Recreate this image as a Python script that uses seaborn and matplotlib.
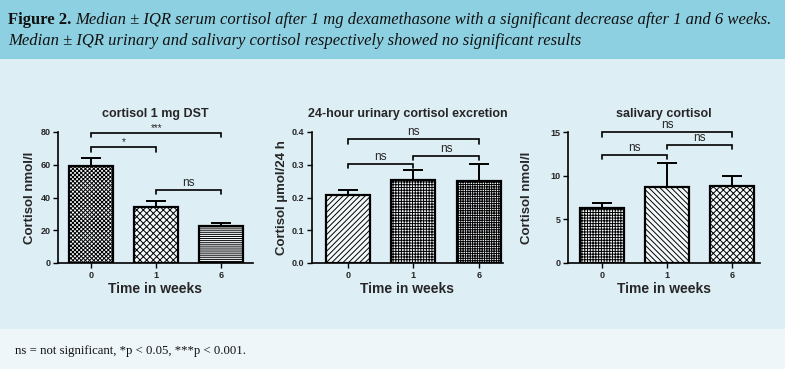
import matplotlib
matplotlib.use("Agg")
import matplotlib.pyplot as plt
from matplotlib.patches import Rectangle
import seaborn as sns
import pandas as pd
import numpy as np

# ---------------- data ----------------
weeks = ["0", "1", "6"]

dst_median = [59.0, 34.4, 22.8]
dst_upper = [64.3, 38.0, 24.4]

ufc_median = [0.207, 0.254, 0.249]
ufc_upper = [0.224, 0.285, 0.301]

sal_median = [6.3, 8.67, 8.82]
sal_upper = [6.9, 11.5, 9.96]

titles = ["cortisol 1 mg DST", "24-hour urinary cortisol excretion", "salivary cortisol"]
ylabels = ["Cortisol nmol/l", "Cortisol \u00b5mol/24 h", "Cortisol nmol/l"]
xlabel = "Time in weeks"

dst_ticks = [0, 20, 40, 60, 80]
ufc_ticks = [0.0, 0.1, 0.2, 0.3, 0.4]
sal_ticks = [0, 5, 10, 15]

# significance comparisons: (i, j, bracket level, tip level, label)
dst_sig = [(0, 2, 79.6, 77.0, "***"), (0, 1, 70.9, 68.0, "*"), (1, 2, 44.8, 42.0, "ns")]
ufc_sig = [(0, 2, 0.379, 0.364, "ns"), (0, 1, 0.302, 0.290, "ns"), (1, 2, 0.328, 0.313, "ns")]
sal_sig = [(0, 2, 15.0, 14.4, "ns"), (0, 1, 12.4, 11.95, "ns"), (1, 2, 13.5, 13.0, "ns")]

hatches = [["xxxxxxxx", "xxxxx", "--------"],
           ["//////", "++++++", "+++++++"],
           ["++++++", "\\\\\\\\\\\\", "xxxxx"]]

caption_bold = "Figure 2."
caption_1 = "Median \u00b1 IQR serum cortisol after 1 mg dexamethasone with a significant decrease after 1 and 6 weeks."
caption_2 = "Median \u00b1 IQR urinary and salivary cortisol respectively showed no significant results"
footnote = "ns = not significant, *p < 0.05, ***p < 0.001."

# ---------------- style ----------------
sns.set_style("white")
plt.rcParams["font.family"] = ["Liberation Sans", "DejaVu Sans"]
plt.rcParams["hatch.linewidth"] = 0.7
plt.rcParams["hatch.color"] = "black"

W, H = 785, 369
fig = plt.figure(figsize=(W / 100, H / 100), dpi=100)
fig.patch.set_facecolor("#deeef5")

header_col = "#8dd0e1"
footer_col = "#eef6f9"
fig.patches.append(Rectangle((0, 1 - 59 / H), 1, 59 / H, transform=fig.transFigure,
                             facecolor=header_col, edgecolor="none", zorder=-10))
fig.patches.append(Rectangle((0, 0), 1, 1 - 329 / H, transform=fig.transFigure,
                             facecolor=footer_col, edgecolor="none", zorder=-10))

cap_fs = 12.0
tb = fig.text(8 / W, 1 - 20 / H, caption_bold, fontsize=cap_fs, fontweight="bold",
              family="Liberation Serif", va="center", ha="left", color="#111111")
fig.canvas.draw()
bb = tb.get_window_extent(renderer=fig.canvas.get_renderer())
fig.text((bb.x1 + 4) / W, 1 - 20 / H, caption_1, fontsize=cap_fs, style="italic",
         family="Liberation Serif", va="center", ha="left", color="#111111")
fig.text(8 / W, 1 - 41 / H, caption_2, fontsize=cap_fs, style="italic",
         family="Liberation Serif", va="center", ha="left", color="#111111")
fig.text(15 / W, 1 - 351 / H, footnote, fontsize=9.2,
         family="Liberation Serif", va="center", ha="left", color="#111111")

# axes geometry in pixels: (left, right, xlim_left, xlim_right)
geoms = [(58, 253, -0.51, 2.49), (312, 503, -0.55, 2.37), (568, 760, -0.52, 2.43)]
y0_px, ytop_px = 263, 132
ylims = [(0, 80), (0, 0.4), (0, 15)]
ylabel_x = [36, 288, 533]

datasets = [(dst_median, dst_upper, dst_ticks, dst_sig, "{:.0f}"),
            (ufc_median, ufc_upper, ufc_ticks, ufc_sig, "{:.1f}"),
            (sal_median, sal_upper, sal_ticks, sal_sig, "{:.0f}")]

for k, ((med, upp, ticks, sig, fmt), (lpx, rpx, xl, xr)) in enumerate(zip(datasets, geoms)):
    ax = fig.add_axes([lpx / W, 1 - y0_px / H, (rpx - lpx) / W, (y0_px - ytop_px) / H])
    ax.set_facecolor("none")
    df = pd.DataFrame({"week": weeks, "value": med})
    sns.barplot(data=df, x="week", y="value", ax=ax, color="white", width=0.67,
                edgecolor="black", linewidth=1.6, errorbar=None, saturation=1)
    for p, h in zip(ax.patches, hatches[k]):
        p.set_hatch(h)
        p.set_facecolor("#f4f9fb")
        p.set_edgecolor("black")
    xs = np.arange(len(weeks))
    err = np.array(upp) - np.array(med)
    ax.errorbar(xs, med, yerr=[np.zeros(len(med)), err], fmt="none", ecolor="black",
                elinewidth=1.4, capsize=7.5, capthick=1.4, zorder=1)
    ymin, ymax = ylims[k]
    ax.set_xlim(xl, xr)
    ax.set_ylim(ymin, ymax)
    ax.set_yticks(ticks)
    ax.set_yticklabels([fmt.format(t) for t in ticks], fontsize=6.5, fontweight="bold")
    ax.set_xticks(xs)
    ax.set_xticklabels(weeks, fontsize=6.5, fontweight="bold")
    ax.tick_params(axis="both", length=3.5, width=1.0, color="black", pad=2, direction="out",
                   left=True, bottom=True)
    for s in ["top", "right"]:
        ax.spines[s].set_visible(False)
    for s in ["left", "bottom"]:
        ax.spines[s].set_linewidth(1.2)
        ax.spines[s].set_color("black")
    ax.set_xlabel(xlabel, fontsize=10, fontweight="bold", labelpad=2)
    ax.set_ylabel(ylabels[k], fontsize=9.5, fontweight="bold")
    ax.yaxis.set_label_coords((ylabel_x[k] - lpx) / (rpx - lpx), 0.5)
    ax.set_title(titles[k], fontsize=9, fontweight="bold", pad=11)
    for (i, j, lev, tip, lab) in sig:
        ax.plot([xs[i], xs[i], xs[j], xs[j]], [tip, lev, lev, tip], color="black",
                lw=1.2, clip_on=False, solid_joinstyle="miter")
        ax.text((xs[i] + xs[j]) / 2, lev + (ymax - ymin) * (0.008 if lab == "ns" else 0.0),
                lab, ha="center", va="bottom", fontsize=8.5 if lab == "ns" else 7,
                clip_on=False)

fig.savefig("out.png", dpi=100, facecolor=fig.get_facecolor())
